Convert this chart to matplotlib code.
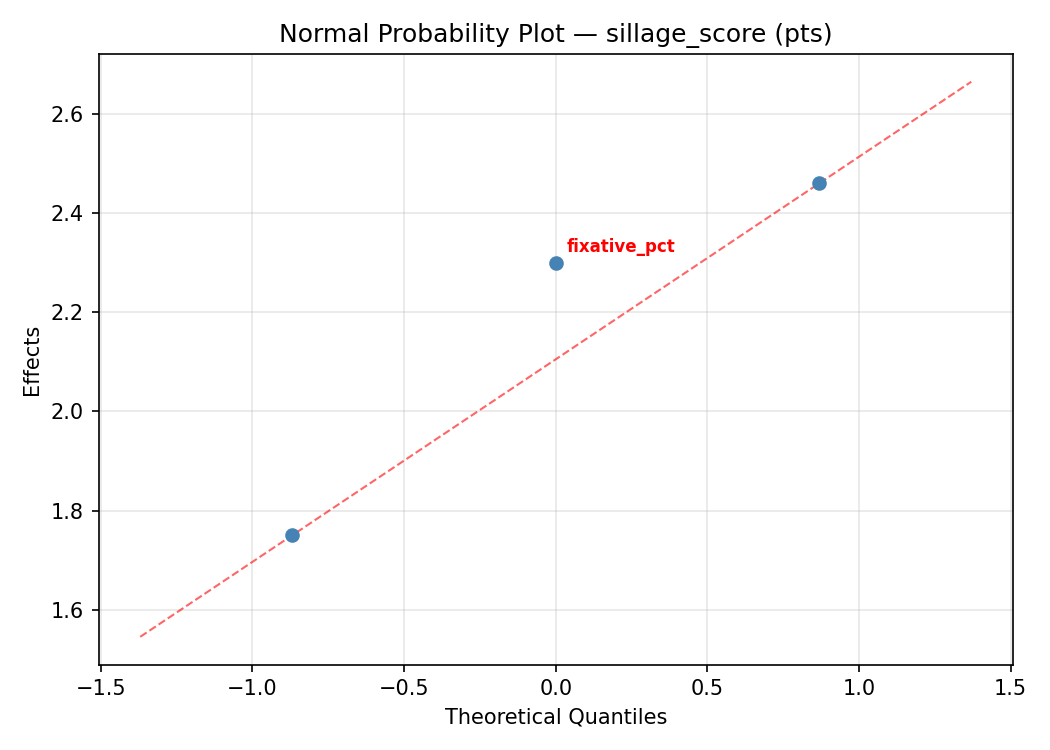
import numpy as np
import matplotlib
matplotlib.use("Agg")
import matplotlib.pyplot as plt

# effects and their theoretical quantiles (Blom positions, n=3)
quantiles = [-0.869, 0.0, 0.869]
effects = [1.75, 2.30, 2.46]
labels = ["", "fixative_pct", ""]
flagged = [False, True, False]

# reference line through first and last point
slope = (effects[2] - effects[0]) / (quantiles[2] - quantiles[0])
intercept = effects[0] - slope * quantiles[0]
line_x = np.array([-1.37, 1.37])
line_y = intercept + slope * line_x

fig, ax = plt.subplots(figsize=(7, 5), dpi=150)
ax.scatter(quantiles, effects, color="steelblue", s=36, zorder=3)
ax.plot(line_x, line_y, "r--", alpha=0.6, lw=1)

for q, e, lab, f in zip(quantiles, effects, labels, flagged):
    if f:
        ax.annotate(lab, (q, e), xytext=(5, 5), textcoords="offset points",
                    fontsize=8, color="red", fontweight="bold")

ax.set_xlabel("Theoretical Quantiles")
ax.set_ylabel("Effects")
ax.set_title("Normal Probability Plot \u2014 sillage_score (pts)")
ax.grid(True, alpha=0.3)
plt.tight_layout()
plt.savefig("out.png")
